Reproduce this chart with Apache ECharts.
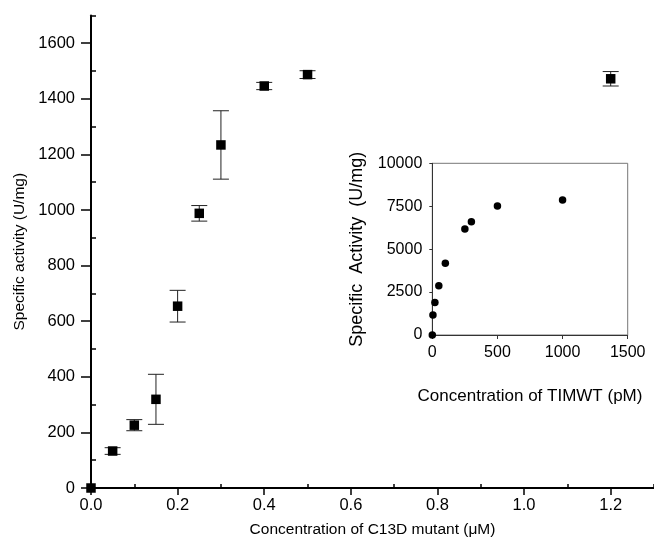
<!DOCTYPE html>
<html>
<head>
<meta charset="utf-8">
<script src="https://cdn.jsdelivr.net/npm/echarts@6/dist/echarts.min.js"></script>
<style>
  html, body { margin: 0; padding: 0; background: #fff; }
  #chart { width: 654px; height: 553px; }
</style>
</head>
<body>
<div id="chart"></div>
<script>
// C13D mutant titration (main plot)
const mutantConc = [0, 0.05, 0.1, 0.15, 0.2, 0.25, 0.3, 0.4, 0.5, 1.2];
const mutantActivity = [0, 133, 226, 319, 654, 988, 1234, 1446, 1487, 1472];
const mutantError = [0, 12, 20, 90, 57, 28, 123, 13, 14, 26];

// TIMWT titration (inset)
const wtConc = [0, 5, 20, 50, 100, 250, 300, 500, 1000];
const wtActivity = [0, 1170, 1900, 2870, 4180, 6180, 6600, 7510, 7860];

// tick values
const mainXMajor = [0, 0.2, 0.4, 0.6, 0.8, 1.0, 1.2];
const mainXMinor = [0.1, 0.3, 0.5, 0.7, 0.9, 1.1, 1.3];
const mainYMajor = [0, 200, 400, 600, 800, 1000, 1200, 1400, 1600];
const mainYMinor = [100, 300, 500, 700, 900, 1100, 1300, 1500, 1700];
const insetXTicks = [0, 500, 1000, 1500];
const insetYTicks = [0, 2500, 5000, 7500, 10000];

const FONT = 'Liberation Sans, Arial, sans-serif';
const chart = echarts.init(document.getElementById('chart'), null, { renderer: 'canvas' });

const errData = mutantConc.map((x, i) => [x, mutantActivity[i], mutantError[i]]);

// vertical error bar with short caps, positioned through the axis scales
function renderErr(params, api) {
  const x = api.value(0), y = api.value(1), e = api.value(2);
  if (!e) return null;
  const lo = api.coord([x, y - e]);
  const hi = api.coord([x, y + e]);
  const w = 8;
  const style = { stroke: '#222', lineWidth: 1 };
  return {
    type: 'group',
    children: [
      { type: 'line', shape: { x1: lo[0], y1: lo[1], x2: hi[0], y2: hi[1] }, style },
      { type: 'line', shape: { x1: lo[0] - w, y1: lo[1], x2: lo[0] + w, y2: lo[1] }, style },
      { type: 'line', shape: { x1: hi[0] - w, y1: hi[1], x2: hi[0] + w, y2: hi[1] }, style }
    ]
  };
}

const plain = v => String(v);

const option = {
  backgroundColor: '#fff',
  animation: false,
  grid: [
    { left: 91, top: 15.4, right: -0.3, bottom: 65, containLabel: false },
    { left: 432.3, top: 163.3, width: 195.4, height: 171.7, show: true,
      borderColor: '#777', borderWidth: 1, backgroundColor: 'transparent' }
  ],
  xAxis: [
    {
      type: 'value', gridIndex: 0, min: 0, max: 1.3,
      name: 'Concentration of C13D mutant (\u03BCM)', nameLocation: 'middle', nameGap: 34,
      nameTextStyle: { fontFamily: FONT, fontSize: 15.5, color: '#000' },
      axisLine: { show: true, onZero: false, lineStyle: { color: '#000', width: 2 } },
      axisTick: { show: true, customValues: mainXMajor, length: 7, lineStyle: { color: '#000', width: 1.5 } },
      axisLabel: { customValues: mainXMajor, margin: 9, fontFamily: FONT, fontSize: 16.5, color: '#000',
        formatter: v => v.toFixed(1) },
      splitLine: { show: false }
    },
    {
      type: 'value', gridIndex: 0, min: 0, max: 1.3,
      axisLine: { show: false },
      axisTick: { show: true, customValues: mainXMinor, length: 4, lineStyle: { color: '#000', width: 1.5 } },
      axisLabel: { show: false },
      splitLine: { show: false }
    },
    {
      type: 'value', gridIndex: 1, min: 0, max: 1500,
      name: 'Concentration of TIMWT (pM)', nameLocation: 'middle', nameGap: 53,
      nameTextStyle: { fontFamily: FONT, fontSize: 17, color: '#000' },
      axisLine: { show: true, onZero: false, lineStyle: { color: '#333', width: 1 } },
      axisTick: { show: true, customValues: insetXTicks, length: 4, lineStyle: { color: '#333' } },
      axisLabel: { customValues: insetXTicks, margin: 10, fontFamily: FONT, fontSize: 16, color: '#000',
        formatter: plain },
      splitLine: { show: false }
    }
  ],
  yAxis: [
    {
      type: 'value', gridIndex: 0, min: 0, max: 1700,
      name: 'Specific activity (U/mg)', nameLocation: 'middle', nameGap: 58,
      nameTextStyle: { fontFamily: FONT, fontSize: 15.5, color: '#000' },
      axisLine: { show: true, onZero: false, lineStyle: { color: '#000', width: 2 } },
      axisTick: { show: true, customValues: mainYMajor, length: 10, lineStyle: { color: '#000', width: 1.5 } },
      axisLabel: { customValues: mainYMajor, margin: 16, fontFamily: FONT, fontSize: 16.5, color: '#000',
        formatter: plain },
      splitLine: { show: false }
    },
    {
      type: 'value', gridIndex: 0, min: 0, max: 1700,
      axisLine: { show: false },
      axisTick: { show: true, customValues: mainYMinor, length: 5, lineStyle: { color: '#000', width: 1.5 } },
      axisLabel: { show: false },
      splitLine: { show: false }
    },
    {
      type: 'value', gridIndex: 1, min: 0, max: 10000,
      name: 'Specific  Activity  (U/mg)', nameLocation: 'middle', nameGap: 66,
      nameTextStyle: { fontFamily: FONT, fontSize: 18, color: '#000' },
      axisLine: { show: true, onZero: false, lineStyle: { color: '#333', width: 1 } },
      axisTick: { show: true, customValues: insetYTicks, length: 3, lineStyle: { color: '#333' } },
      axisLabel: { customValues: insetYTicks, margin: 10, fontFamily: FONT, fontSize: 16, color: '#000',
        formatter: plain },
      splitLine: { show: false }
    }
  ],
  series: [
    {
      type: 'custom', xAxisIndex: 0, yAxisIndex: 0,
      renderItem: renderErr, data: errData, z: 2, clip: false
    },
    {
      type: 'scatter', xAxisIndex: 0, yAxisIndex: 0,
      symbol: 'rect', symbolSize: 9.5,
      itemStyle: { color: '#000', opacity: 1 },
      data: mutantConc.map((x, i) => [x, mutantActivity[i]]), z: 3, clip: false
    },
    {
      type: 'scatter', xAxisIndex: 2, yAxisIndex: 2,
      symbol: 'circle', symbolSize: 7.5,
      itemStyle: { color: '#000', opacity: 1 },
      data: wtConc.map((x, i) => [x, wtActivity[i]]), z: 3, clip: false
    }
  ]
};

chart.setOption(option);
</script>
</body>
</html>
